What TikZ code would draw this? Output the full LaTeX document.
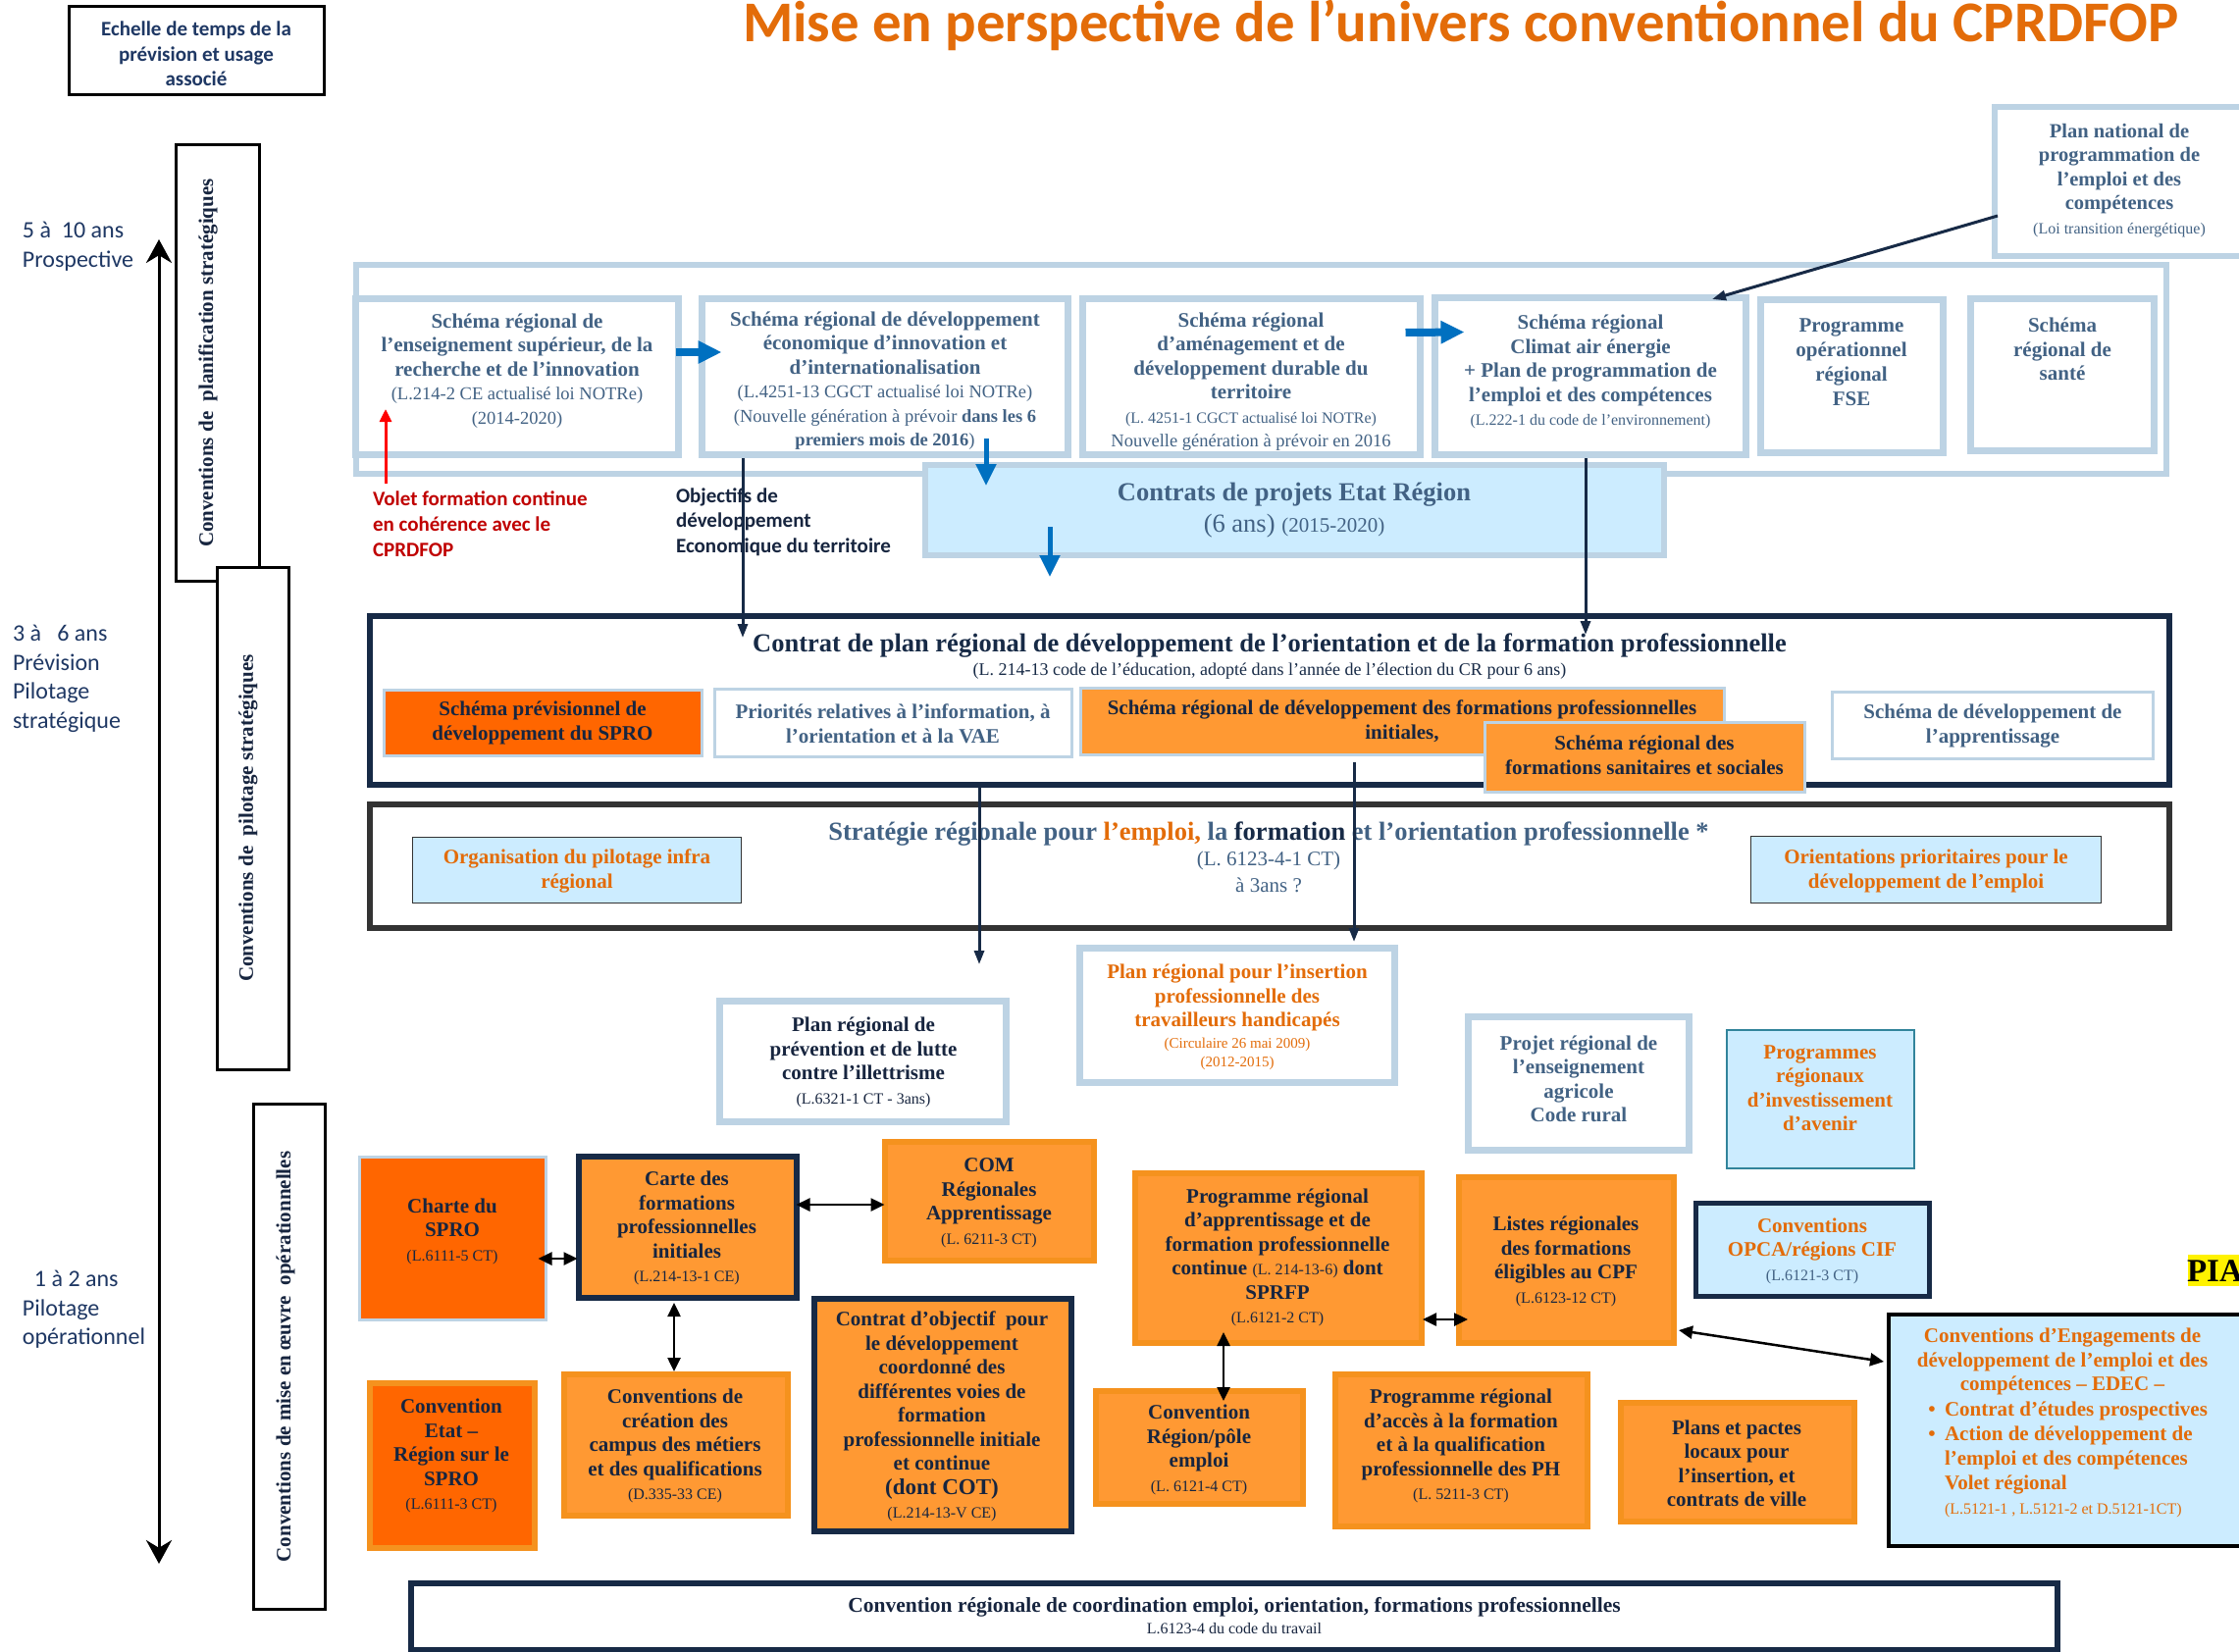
\documentclass[tikz,border=0pt]{standalone}
\usepackage{fontspec}
\setmainfont{Liberation Serif}
\newfontfamily\calib{Carlito}
\usetikzlibrary{arrows.meta}
\newcommand\fz[2]{\fontsize{#1pt}{#2pt}\selectfont}
\newcommand\smt{\fz{16}{20}\mdseries}
\newcommand\smb{\fz{18.5}{22}\mdseries}
\definecolor{lb}{RGB}{189,211,228}
\definecolor{sb}{RGB}{66,98,132}
\definecolor{dk}{RGB}{23,37,63}
\definecolor{nv}{RGB}{23,42,70}
\definecolor{lab}{RGB}{31,56,100}
\definecolor{ttl}{RGB}{227,108,9}
\definecolor{org}{RGB}{255,153,51}
\definecolor{orb}{RGB}{245,146,30}
\definecolor{orx}{RGB}{255,102,0}
\definecolor{cy}{RGB}{204,236,255}
\definecolor{bl}{RGB}{0,112,192}
\definecolor{rd}{RGB}{192,0,0}
\definecolor{tl}{RGB}{49,132,155}
\definecolor{gr}{RGB}{51,51,51}
\newcommand\mybox[6][]{%
  \pgfmathsetmacro\mybw{#5-#3-5}%
  \pgfmathsetmacro\mybh{#6-#4-5}%
  \node[#1,minimum width=\mybw pt,minimum height=\mybh pt] (#2) at ({(#3+#5)/2},{(#4+#6)/2}) {};}
\tikzset{
  lbb/.style={draw=lb,line width=7pt,fill=white},
  lbthin/.style={draw=lb,line width=2.5pt,fill=white},
  framebox/.style={draw=lb,line width=6pt,fill=white},
  cperbox/.style={draw=lb,line width=6pt,fill=cy},
  nvb/.style={draw=nv,line width=6pt,fill=white},
  grb/.style={draw=gr,line width=6pt,fill=white},
  blk/.style={draw=black,line width=2.5pt,fill=white},
  orgO/.style={fill=org,draw=orb,line width=6pt},
  orgN/.style={fill=org,draw=nv,line width=6pt},
  orgL/.style={fill=org,draw=lb,line width=2.5pt},
  orxL/.style={fill=orx,draw=lb,line width=3pt},
  orxO/.style={fill=orx,draw=orb,line width=6pt},
  cyN/.style={fill=cy,draw=nv,line width=5pt},
  cyG/.style={fill=cy,draw=gr,line width=1.5pt},
  cyT/.style={fill=cy,draw=tl,line width=2pt},
  cyK/.style={fill=cy,draw=black,line width=4pt},
  tx/.style={align=center,font=\fz{21}{24.5}\bfseries},
  nvarrow/.style={draw=nv,line width=3pt,-{Triangle[length=14pt,width=10pt]}},
  dbl/.style={draw=black,line width=2.5pt,{Triangle[length=14pt,width=13pt]}-{Triangle[length=14pt,width=13pt]}},
  bkarrow/.style={draw=bl,line width=8pt,-{Triangle[length=24pt,width=22pt]}},
  bdarrow/.style={draw=bl,line width=5pt,-{Triangle[length=22pt,width=20pt]}},
  rdarrow/.style={draw=red,line width=3pt,-{Triangle[length=13pt,width=12pt]}},
  scarr/.style={draw=black,line width=3pt,{Stealth[length=24pt,width=26pt]}-{Stealth[length=24pt,width=26pt]}},
}
\begin{document}
\begin{tikzpicture}[x=1pt,y=-1pt,every node/.style={inner sep=0pt,outer sep=0pt}]
\useasboundingbox (0,0) rectangle (2282,1683);
\fill[white] (0,0) rectangle (2282,1683);

% title and scale header
\node[anchor=base,font=\calib\fz{58.8}{64}\bfseries,text=ttl] (title) at (1489,43) {Mise en perspective de l’univers conventionnel du CPRDFOP};
\mybox[blk]{ech}{68}{4}{333}{99}
\node[tx,font=\calib\fz{21}{25.5}\bfseries,text=lab] (ech-t) at (200,55) {Echelle de temps de la\\prévision et usage\\associé};

% left labels
\node[anchor=west,align=left,font=\calib\fz{24}{29.5},text=lab] (l1) at (23,251) {5 à\ \ 10 ans\\Prospective};
\node[anchor=west,align=left,font=\calib\fz{24}{29.5},text=lab] (l2) at (13,692) {3 à\ \ \ 6 ans\\Prévision\\Pilotage\\stratégique};
\node[anchor=west,align=left,font=\calib\fz{24}{29.5},text=lab] (l3) at (23,1335) {\hspace*{12pt}1 à 2 ans\\Pilotage\\opérationnel};
\coordinate (sctop) at (162,244);
\coordinate (scbot) at (162,1594);
\draw[scarr] (sctop) -- (scbot);

% vertical boxes
\mybox[blk]{v1}{177}{145}{267}{595}
\node[tx,rotate=90,text=dk] (v1-t) at (212,370) {Conventions de\ \ planification stratégiques};
\mybox[blk]{v2}{219}{576}{297}{1093}
\node[tx,rotate=90,text=dk] (v2-t) at (253,834) {Conventions de\ \ pilotage stratégiques};
\mybox[blk]{v3}{256}{1123}{334}{1643}
\node[tx,rotate=90,text=dk] (v3-t) at (291,1383) {Conventions de mise en œuvre\ \ opérationnelles};

% top frame
\mybox[framebox]{frame}{360}{267}{2210}{485}
\mybox[lbb]{a}{360}{302}{694}{466}
\node[tx,text=sb] (a-t) at (527,378) {Schéma régional de\\l’enseignement supérieur, de la\\recherche et de l’innovation\\{\smb (L.214-2 CE actualisé loi NOTRe)}\\{\smb (2014-2020)}};
\mybox[lbb]{b}{713}{302}{1091}{466}
\node[tx,text=sb] (b-t) at (902,388) {Schéma régional de développement\\économique d’innovation et\\d’internationalisation\\{\smb (L.4251-13 CGCT actualisé loi NOTRe)}\\{\smb (Nouvelle génération à prévoir \textbf{dans les 6}}\\{\smb\bfseries premiers mois de 2016}{\smb )}};
\mybox[lbb]{c}{1101}{302}{1450}{466}
\node[tx,text=sb] (c-t) at (1275,389) {Schéma régional\\d’aménagement et de\\développement durable du\\territoire\\{\fz{16}{21}\mdseries (L. 4251-1 CGCT actualisé loi NOTRe)}\\{\smb Nouvelle génération à prévoir en 2016}};
\mybox[lbb]{d}{1460}{301}{1782}{466}
\node[tx,text=sb] (d-t) at (1621,379) {Schéma régional\\Climat air énergie\\+ Plan de programmation de\\l’emploi et des compétences\\{\fz{16}{21}\mdseries (L.222-1 du code de l’environnement)}};
\mybox[lbb]{e}{1792}{303}{1983}{464}
\node[tx,font=\fz{21}{25}\bfseries,text=sb] (e-t) at (1887,369) {Programme\\opérationnel\\régional\\FSE};
\mybox[lbb]{f}{2006}{302}{2198}{462}
\node[tx,text=sb] (f-t) at (2102,356) {Schéma\\régional de\\santé};

% plan national
\mybox[framebox]{pn}{2030}{107}{2300}{263}
\node[tx,font=\fz{20.5}{24.5}\bfseries,text=sb] (pn-t) at (2160,184) {Plan national de\\programmation de\\l’emploi et des\\compétences\\{\fz{16}{20}\mdseries (Loi transition énergétique)}};

% CPER
\mybox[cperbox]{cper}{940}{471}{1698}{568}
\node[tx,font=\fz{26.5}{30}\bfseries,text=sb] (cper-t) at (1319,520) {Contrats de projets Etat Région\\[2pt]{\mdseries (6 ans) {\fz{21}{30}(2015-2020)}}};

% free texts
\node[anchor=west,align=left,font=\calib\fz{21}{26}\bfseries,text=rd] (volet) at (380,534) {Volet formation continue\\en cohérence avec le\\CPRDFOP};
\node[anchor=west,align=left,font=\calib\fz{21}{25.5}\bfseries,text=dk] (obj) at (689,532) {Objectifs de\\développement\\Economique du territoire};

% CPRDFOP
\mybox[nvb]{cprd}{374}{625}{2213}{802}
\node[font=\fz{26.5}{30}\bfseries,text=nv] (cprd-t1) at (1294,658) {Contrat de plan régional de développement de l’orientation et de la formation professionnelle};
\node[font=\fz{18}{22},text=nv] (cprd-t2) at (1294,684) {(L. 214-13 code de l’éducation, adopté dans l’année de l’élection du CR pour 6 ans)};
\mybox[orxL]{spro}{389}{701}{718}{773}
\node[tx,text=dk] (spro-t) at (553,737) {Schéma prévisionnel de\\développement du SPRO};
\mybox[lbthin]{prio}{726}{700}{1095}{774}
\node[tx,text=sb] (prio-t) at (910,738) {Priorités relatives à l’information, à\\l’orientation et à la VAE};
\mybox[orgL]{srdf}{1099}{699}{1760}{772}
\node[tx,text=dk] (srdf-t) at (1429,735) {Schéma régional de développement des formations professionnelles\\initiales,};
\mybox[orgL]{sani}{1511}{734}{1842}{810}
\node[tx,text=dk] (sani-t) at (1676,770) {Schéma régional des\\formations sanitaires et sociales};
\mybox[lbthin]{appr}{1865}{703}{2197}{776}
\node[tx,text=sb] (appr-t) at (2031,740) {Schéma de développement de\\l’apprentissage};

% Strategie
\mybox[grb]{strat}{374}{817}{2213}{948}
\node[font=\fz{26.5}{30}\bfseries] (st-t1) at (1293,850) {\textcolor{sb}{Stratégie régionale pour}\ \textcolor{ttl}{l’emploi,}\ \textcolor{sb}{la}\ \textcolor{nv}{formation}\ \textcolor{sb}{et l’orientation professionnelle *}};
\node[font=\fz{21}{25},text=sb] (st-t2) at (1293,877) {(L. 6123-4-1 CT)};
\node[font=\fz{21}{25},text=sb] (st-t3) at (1293,902) {à 3ans ?};
\mybox[cyG]{orga}{418}{851}{758}{923}
\node[tx,text=ttl] (orga-t) at (588,888) {Organisation du pilotage infra\\régional};
\mybox[cyG]{ori}{1782}{850}{2144}{923}
\node[tx,text=ttl] (ori-t) at (1963,888) {Orientations prioritaires pour le\\développement de l’emploi};

% middle boxes
\mybox[lbb]{prev}{731}{1018}{1028}{1146}
\node[tx,text=dk] (prev-t) at (880,1083) {Plan régional de\\prévention et de lutte\\contre l’illettrisme\\{\smt (L.6321-1 CT - 3ans)}};
\mybox[lbb]{ins}{1098}{964}{1424}{1106}
\node[tx,text=ttl] (ins-t) at (1261,1037) {Plan régional pour l’insertion\\professionnelle des\\travailleurs handicapés\\[-3pt]{\fz{15}{18}\mdseries (Circulaire 26 mai 2009)}\\[-5pt]{\fz{15}{18}\mdseries (2012-2015)}};
\mybox[lbb]{agri}{1494}{1034}{1724}{1175}
\node[tx,text=sb] (agri-t) at (1609,1100) {Projet régional de\\l’enseignement\\agricole\\Code rural};
\mybox[cyT]{pria}{1757}{1047}{1953}{1193}
\node[tx,text=ttl] (pria-t) at (1855,1109) {Programmes\\régionaux\\d’investissement\\d’avenir};

% operational boxes
\mybox[orxL]{charte}{364}{1177}{559}{1348}
\node[tx,text=dk] (charte-t) at (461,1255) {Charte du\\SPRO\\{\smt (L.6111-5 CT)}};
\mybox[orgN]{carte}{587}{1176}{814}{1325}
\node[tx,text=dk] (carte-t) at (700,1252) {Carte des\\formations\\professionnelles\\initiales\\{\smt (L.214-13-1 CE)}};
\mybox[orgO]{com}{899}{1161}{1117}{1287}
\node[tx,text=dk] (com-t) at (1008,1226) {COM\\Régionales\\Apprentissage\\{\smt (L. 6211-3 CT)}};
\mybox[orgO]{prog}{1154}{1193}{1451}{1371}
\node[tx,text=dk] (prog-t) at (1302,1282) {Programme régional\\d'apprentissage et de\\formation professionnelle\\continue {\smt (L. 214-13-6)} dont\\SPRFP\\{\smt (L.6121-2 CT)}};
\mybox[orgO]{listes}{1484}{1197}{1708}{1371}
\node[tx,text=dk] (listes-t) at (1596,1286) {Listes régionales\\des formations\\éligibles au CPF\\{\smt (L.6123-12 CT)}};
\mybox[cyN]{opca}{1726}{1224}{1969}{1324}
\node[tx,text=ttl] (opca-t) at (1847,1275) {Conventions\\OPCA/régions CIF\\{\smt\color{sb}(L.6121-3 CT)}};
\mybox[orgN]{cob}{827}{1321}{1094}{1563}
\node[tx,text=dk] (cob-t) at (960,1444) {Contrat d’objectif\ \ pour\\le développement\\coordonné des\\différentes voies de\\formation\\professionnelle initiale\\et continue\\{\fz{23}{24.5}(dont COT)}\\{\smt (L.214-13-V CE)}};
\mybox[orxO]{etat}{374}{1407}{547}{1580}
\node[tx,text=dk] (etat-t) at (460,1484) {Convention\\Etat –\\Région sur le\\SPRO\\{\smt (L.6111-3 CT)}};
\mybox[orgO]{campus}{572}{1398}{805}{1547}
\node[tx,text=dk] (campus-t) at (688,1474) {Conventions de\\création des\\campus des métiers\\et des qualifications\\{\smt (D.335-33 CE)}};
\mybox[orgO]{pole}{1114}{1415}{1330}{1535}
\node[tx,text=dk] (pole-t) at (1222,1478) {Convention\\Région/pôle\\emploi\\{\smt (L. 6121-4 CT)}};
\mybox[orgO]{ph}{1358}{1398}{1620}{1558}
\node[tx,text=dk] (ph-t) at (1489,1474) {Programme régional\\d’accès à la formation\\et à la qualification\\professionnelle des PH\\{\smt (L. 5211-3 CT)}};
\mybox[orgO]{plans}{1649}{1427}{1892}{1553}
\node[tx,text=dk] (plans-t) at (1770,1492) {Plans et pactes\\locaux pour\\l’insertion, et\\contrats de ville};

% EDEC
\mybox[cyK]{edec}{1922}{1337}{2300}{1578}
\node[tx,text=ttl] (edec-t1) at (2102,1388) {Conventions d’Engagements de\\développement de l’emploi et des\\compétences – EDEC –};
\node[anchor=west,align=left,font=\fz{21}{25}\bfseries,text=ttl] (edec-t2) at (1982,1488) {Contrat d’études prospectives\\Action de développement de\\l’emploi et des compétences\\Volet régional\\{\smt (L.5121-1 , L.5121-2 et D.5121-1CT)}};
\node[font=\fz{21}{25}\bfseries,text=ttl] (bul1) at (1969,1439) {•};
\node[font=\fz{21}{25}\bfseries,text=ttl] (bul2) at (1969,1464) {•};

% PIA
\mybox[fill=yellow]{pia}{2227}{1276}{2295}{1313}
\node[anchor=west,font=\fz{33}{36}\bfseries] (pia-t) at (2229,1296) {PIA};

% bottom box
\mybox[nvb]{bot}{416}{1611}{2099}{1684}
\node[font=\fz{21.5}{25}\bfseries,text=dk] (bot-t1) at (1258,1638) {Convention régionale de coordination emploi, orientation, formations professionnelles};
\node[font=\fz{16}{20},text=dk] (bot-t2) at (1258,1660) {L.6123-4 du code du travail};

% connectors
\draw[bkarrow] ([xshift=-3pt,yshift=25pt]a.east) -- ([xshift=20pt,yshift=25pt]b.west);
\draw[bkarrow] ([xshift=-15pt,yshift=45pt]c.east) -- ([xshift=30pt,yshift=45pt]d.west);
\draw[bdarrow] ([xshift=103pt,yshift=16.5pt]b.south) -- ([xshift=-314pt,yshift=-21.5pt]cper.north);
\draw[bdarrow] ([xshift=-249pt,yshift=28.5pt]cper.south) -- ([xshift=-223.5pt,yshift=39.5pt]cprd.north);
\draw[nvarrow] ([xshift=-145pt,yshift=-3.5pt]b.south) -- ([xshift=-536.5pt,yshift=-22.5pt]cprd.north);
\draw[nvarrow] ([xshift=-5pt,yshift=-3.5pt]d.south) -- ([xshift=322.5pt,yshift=-19.5pt]cprd.north);
\draw[nvarrow] ([xshift=3.5pt,yshift=-35pt]pn.west) -- ([xshift=124pt,yshift=-1.5pt]d.north);
\draw[nvarrow] ([xshift=-295.5pt]cprd.south) -- ([xshift=118.5pt,yshift=37.5pt]prev.north);
\draw[nvarrow] ([xshift=-49.5pt,yshift=-7.5pt]srdf.south) -- ([xshift=119pt,yshift=6.5pt]ins.north);
\coordinate (redstart) at (393,493);
\draw[rdarrow] (redstart) -- ([xshift=30.5pt,yshift=46.5pt]a.south west);
\draw[dbl] ([xshift=-8pt,yshift=-20.5pt]charte.east) -- ([xshift=-1pt,yshift=-32.5pt]carte.west);
\draw[dbl] ([yshift=22.5pt]carte.east) -- ([yshift=-4pt]com.west);
\draw[dbl] ([xshift=-13.5pt,yshift=-5.5pt]carte.south) -- ([xshift=-1.5pt,yshift=2.5pt]campus.north);
\draw[dbl] ([xshift=1.5pt,yshift=-63pt]prog.east) -- ([xshift=9.5pt,yshift=-61pt]listes.west);
\draw[dbl] ([xshift=5.5pt,yshift=-72pt]listes.east) -- ([xshift=-4.5pt,yshift=69.5pt]edec.west);
\draw[dbl] ([xshift=-55.5pt,yshift=10.5pt]prog.south) -- ([xshift=25pt,yshift=-10.5pt]pole.north);
\end{tikzpicture}
\end{document}
